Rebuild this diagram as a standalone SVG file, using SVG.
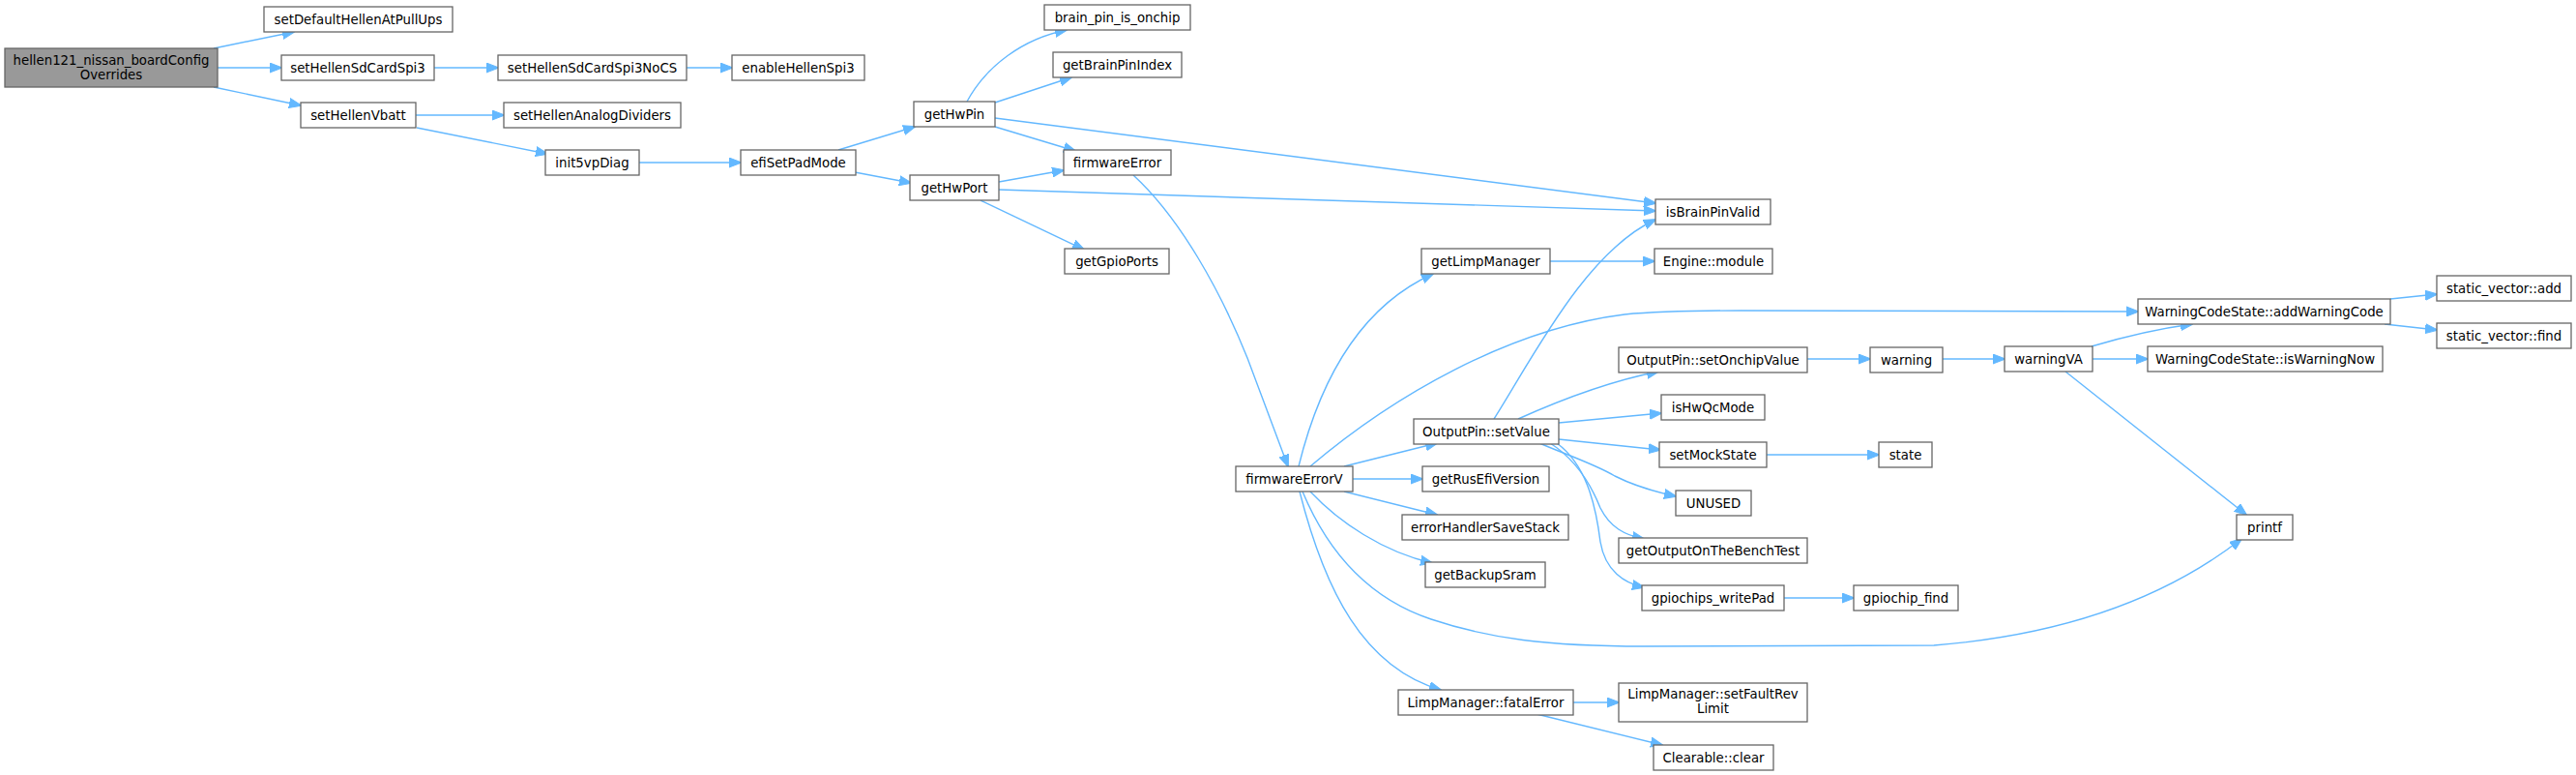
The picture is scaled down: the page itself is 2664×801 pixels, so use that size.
<svg xmlns="http://www.w3.org/2000/svg" width="2664" height="801" viewBox="0 0 2664 801">
<style>
.n rect{fill:#ffffff;stroke:#666666;stroke-width:1.3}
.n.root rect{fill:#999999}
.n text{font-family:"DejaVu Sans","Liberation Sans",sans-serif;font-size:13.3px;fill:#000000;text-anchor:middle}
.e path{fill:none;stroke:#63b8ff;stroke-width:1.4;marker-end:url(#ah)}
</style>
<defs>
<marker id="ah" viewBox="0 -5.5 13 11" refX="12" refY="0" markerWidth="13" markerHeight="11" markerUnits="userSpaceOnUse" orient="auto">
<path d="M0,-5 L13,0 L0,5 z" fill="#63b8ff" stroke="#63b8ff" stroke-width="1"/>
</marker>
</defs>
<rect width="2664" height="801" fill="#ffffff"/>
<g id="edges" class="e">
<path d="M221,50 L304,33"/>
<path d="M225,70 L291,70"/>
<path d="M221,90 L311,109"/>
<path d="M449,70 L515,70"/>
<path d="M710,70 L757,70"/>
<path d="M430,119 L521,119"/>
<path d="M431,132 L566,159"/>
<path d="M661,168 L766,168"/>
<path d="M867,155 L946,131"/>
<path d="M884,178 L942,189"/>
<path d="M1000,105 C1020,68 1058,40 1103,31"/>
<path d="M1029,106 L1108,80"/>
<path d="M1029,131 L1112,156"/>
<path d="M1029,122 L1712,210"/>
<path d="M1033,188 L1100,176"/>
<path d="M1033,196 L1712,218"/>
<path d="M1014,207 L1121,258"/>
<path d="M1172,181 C1220,225 1262,300 1290,370 C1305,410 1320,450 1332,482"/>
<path d="M1343,482 C1362,405 1400,320 1482,283"/>
<path d="M1355,482 C1440,410 1560,340 1680,325 C1720,321 1760,321 1800,321 L2211,322"/>
<path d="M1390,482 L1486,458"/>
<path d="M1399,495 L1471,495"/>
<path d="M1390,508 L1486,532"/>
<path d="M1355,508 C1385,540 1430,570 1481,582"/>
<path d="M1347,508 C1375,575 1420,620 1480,640 C1540,660 1600,668 1700,668 L2000,667 C2150,655 2250,610 2318,557"/>
<path d="M1344,508 C1370,610 1410,690 1490,713"/>
<path d="M1545,433 C1585,370 1640,260 1712,227"/>
<path d="M1570,433 C1610,415 1660,395 1715,384"/>
<path d="M1612,437 L1718,427"/>
<path d="M1612,454 L1717,465"/>
<path d="M1592,458 C1620,470 1650,480 1670,492 C1690,502 1710,508 1733,513"/>
<path d="M1603,458 C1630,475 1645,500 1655,525 C1665,545 1680,553 1700,557"/>
<path d="M1610,458 C1640,480 1650,520 1655,560 C1660,590 1680,603 1700,607"/>
<path d="M1869,371 L1934,371"/>
<path d="M2009,371 L2073,371"/>
<path d="M2163,358 C2190,350 2230,340 2267,335"/>
<path d="M2164,371 L2221,371"/>
<path d="M2136,384 L2323,532"/>
<path d="M2472,309 L2520,304"/>
<path d="M2466,335 L2520,341"/>
<path d="M1827,470 L1943,470"/>
<path d="M1845,618 L1917,618"/>
<path d="M1627,726 L1674,726"/>
<path d="M1589,738 L1719,770"/>
<path d="M1603,270 L1711,270"/>
</g>
<g id="n0" class="n root"><rect x="5" y="50" width="220" height="40"/><text x="115" y="66.5">hellen121_nissan_boardConfig</text><text x="115" y="81.5">Overrides</text></g>
<g id="n1" class="n"><rect x="273" y="7" width="195" height="26"/><text x="370.5" y="25">setDefaultHellenAtPullUps</text></g>
<g id="n2" class="n"><rect x="291" y="57" width="158" height="26"/><text x="370" y="75">setHellenSdCardSpi3</text></g>
<g id="n3" class="n"><rect x="515" y="57" width="195" height="26"/><text x="612.5" y="75">setHellenSdCardSpi3NoCS</text></g>
<g id="n4" class="n"><rect x="757" y="57" width="137" height="26"/><text x="825.5" y="75">enableHellenSpi3</text></g>
<g id="n5" class="n"><rect x="311" y="106" width="119" height="26"/><text x="370.5" y="124">setHellenVbatt</text></g>
<g id="n6" class="n"><rect x="521" y="106" width="183" height="26"/><text x="612.5" y="124">setHellenAnalogDividers</text></g>
<g id="n7" class="n"><rect x="564" y="155" width="97" height="26"/><text x="612.5" y="173">init5vpDiag</text></g>
<g id="n8" class="n"><rect x="766" y="155" width="119" height="26"/><text x="825.5" y="173">efiSetPadMode</text></g>
<g id="n9" class="n"><rect x="945" y="105" width="84" height="26"/><text x="987" y="123">getHwPin</text></g>
<g id="n10" class="n"><rect x="941" y="181" width="92" height="26"/><text x="987" y="199">getHwPort</text></g>
<g id="n11" class="n"><rect x="1080" y="5" width="151" height="26"/><text x="1155.5" y="23">brain_pin_is_onchip</text></g>
<g id="n12" class="n"><rect x="1089" y="54" width="133" height="26"/><text x="1155.5" y="72">getBrainPinIndex</text></g>
<g id="n13" class="n"><rect x="1100" y="155" width="111" height="26"/><text x="1155.5" y="173">firmwareError</text></g>
<g id="n14" class="n"><rect x="1101" y="257" width="108" height="26"/><text x="1155" y="275">getGpioPorts</text></g>
<g id="n15" class="n"><rect x="1712" y="206" width="119" height="26"/><text x="1771.5" y="224">isBrainPinValid</text></g>
<g id="n16" class="n"><rect x="1278" y="482" width="121" height="26"/><text x="1338.5" y="500">firmwareErrorV</text></g>
<g id="n17" class="n"><rect x="1470" y="257" width="133" height="26"/><text x="1536.5" y="275">getLimpManager</text></g>
<g id="n18" class="n"><rect x="1711" y="257" width="122" height="26"/><text x="1772" y="275">Engine::module</text></g>
<g id="n19" class="n"><rect x="2211" y="309" width="261" height="26"/><text x="2341.5" y="327">WarningCodeState::addWarningCode</text></g>
<g id="n20" class="n"><rect x="2520" y="285" width="139" height="26"/><text x="2589.5" y="303">static_vector::add</text></g>
<g id="n21" class="n"><rect x="2520" y="334" width="139" height="26"/><text x="2589.5" y="352">static_vector::find</text></g>
<g id="n22" class="n"><rect x="1462" y="433" width="150" height="26"/><text x="1537" y="451">OutputPin::setValue</text></g>
<g id="n23" class="n"><rect x="1674" y="359" width="195" height="26"/><text x="1771.5" y="377">OutputPin::setOnchipValue</text></g>
<g id="n24" class="n"><rect x="1934" y="359" width="75" height="26"/><text x="1971.5" y="377">warning</text></g>
<g id="n25" class="n"><rect x="2073" y="358" width="91" height="26"/><text x="2118.5" y="376">warningVA</text></g>
<g id="n26" class="n"><rect x="2221" y="358" width="243" height="26"/><text x="2342.5" y="376">WarningCodeState::isWarningNow</text></g>
<g id="n27" class="n"><rect x="1718" y="408" width="107" height="26"/><text x="1771.5" y="426">isHwQcMode</text></g>
<g id="n28" class="n"><rect x="1716" y="457" width="111" height="26"/><text x="1771.5" y="475">setMockState</text></g>
<g id="n29" class="n"><rect x="1943" y="457" width="55" height="26"/><text x="1970.5" y="475">state</text></g>
<g id="n30" class="n"><rect x="1471" y="482" width="131" height="26"/><text x="1536.5" y="500">getRusEfiVersion</text></g>
<g id="n31" class="n"><rect x="1733" y="507" width="78" height="26"/><text x="1772" y="525">UNUSED</text></g>
<g id="n32" class="n"><rect x="1450" y="532" width="172" height="26"/><text x="1536" y="550">errorHandlerSaveStack</text></g>
<g id="n33" class="n"><rect x="1674" y="556" width="195" height="26"/><text x="1771.5" y="574">getOutputOnTheBenchTest</text></g>
<g id="n34" class="n"><rect x="1474" y="581" width="124" height="26"/><text x="1536" y="599">getBackupSram</text></g>
<g id="n35" class="n"><rect x="1698" y="605" width="147" height="26"/><text x="1771.5" y="623">gpiochips_writePad</text></g>
<g id="n36" class="n"><rect x="1917" y="605" width="108" height="26"/><text x="1971" y="623">gpiochip_find</text></g>
<g id="n37" class="n"><rect x="2313" y="532" width="58" height="26"/><text x="2342" y="550">printf</text></g>
<g id="n38" class="n"><rect x="1446" y="713" width="181" height="26"/><text x="1536.5" y="731">LimpManager::fatalError</text></g>
<g id="n39" class="n"><rect x="1674" y="706" width="195" height="40"/><text x="1771.5" y="721.5">LimpManager::setFaultRev</text><text x="1771.5" y="736.5">Limit</text></g>
<g id="n40" class="n"><rect x="1710" y="770" width="124" height="26"/><text x="1772" y="788">Clearable::clear</text></g>
</svg>
